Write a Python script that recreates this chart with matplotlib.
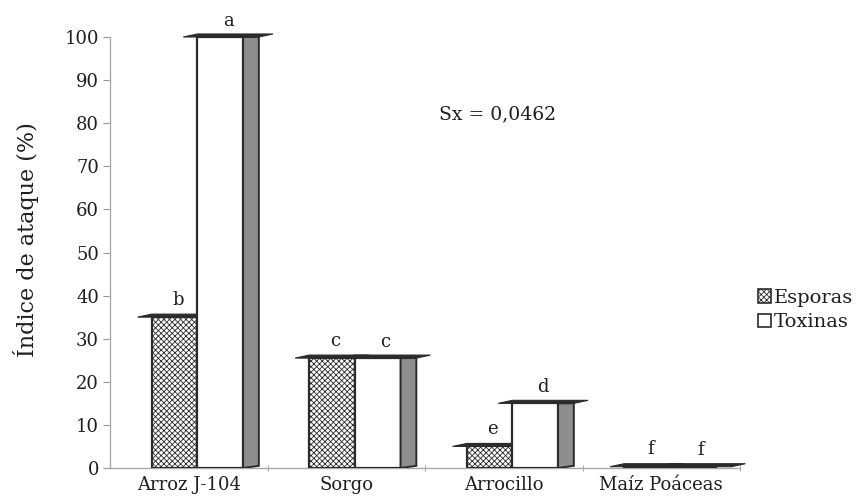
import matplotlib
matplotlib.use("Agg")
import matplotlib.pyplot as plt
from matplotlib.patches import Polygon, Patch

plt.rcParams['font.family'] = ['DejaVu Serif']
plt.rcParams['hatch.color'] = '#b0b0b0'
plt.rcParams['hatch.linewidth'] = 0.6

# ---- datos ----
categorias = ['Arroz J-104', 'Sorgo', 'Arrocillo', 'Maíz Poáceas']
esporas = [35, 25.5, 5, 0.3]
toxinas = [100, 25.5, 15, 0.3]
letras_esporas = ['b', 'c', 'e', 'f']
letras_toxinas = ['a', 'c', 'd', 'f']
yticks = list(range(0, 101, 10))

# ---- geometría ----
ancho = 0.29
desp = 0.055          # el par de barras está algo corrido a la derecha
prof = 0.10           # ancho de la cara lateral
dy = 0.7              # grosor de la cara superior
txt = '#1e1e1e'

fig = plt.figure(figsize=(8.56, 5.04), dpi=100)
ax = fig.add_axes([110/856, 36/504, 630/856, 431/504])

def cara_superior(x0, x1, top, z):
    ext = 0.09
    return Polygon([(x0 - ext, top), (x1, top), (x1 + ext, top + dy), (x0, top + dy)],
                   closed=True, facecolor='#2b2b2b', edgecolor='#2b2b2b', lw=0.8,
                   zorder=z, clip_on=False)

for i in range(len(categorias)):
    xe = i + desp - ancho
    xt = i + desp
    # esporas
    ax.bar(xe, esporas[i], ancho, align='edge', facecolor='white', hatch='xxxxxx',
           edgecolor='#2b2b2b', linewidth=1.6, zorder=3)
    ax.add_patch(cara_superior(xe, xe + ancho, esporas[i], 2.5))
    # toxinas
    ax.bar(xt, toxinas[i], ancho, align='edge', facecolor='white',
           edgecolor='#2b2b2b', linewidth=1.6, zorder=3)
    # cara lateral gris
    x1 = xt + ancho
    if toxinas[i] > 2:
        ax.add_patch(Polygon([(x1, 0), (x1 + prof, 0.5), (x1 + prof, toxinas[i]), (x1, toxinas[i])],
                             closed=True, facecolor='#8e8e8e', edgecolor='#2b2b2b', lw=1.4, zorder=3))
    ax.add_patch(cara_superior(xt, x1 + prof, toxinas[i], 4))
    # letras
    ax.text(xe + ancho / 2 + 0.02, esporas[i] + 4, letras_esporas[i], ha='center', va='center',
            fontsize=13, color=txt)
    ax.text(xt + (ancho + prof) / 2, toxinas[i] + 3.8, letras_toxinas[i], ha='center', va='center',
            fontsize=13, color=txt)

ax.text(1.96, 82, 'Sx = 0,0462', fontsize=13.5, color=txt, ha='center', va='center')

ax.set_xlim(-0.5, 3.5)
ax.set_ylim(0, 100)
ax.set_yticks(yticks)
ax.set_yticklabels([str(v) for v in yticks], fontsize=13, color=txt)
ax.set_xticks(range(len(categorias)))
ax.set_xticklabels(categorias, fontsize=13, color=txt)
ax.set_xticks([0.5, 1.5, 2.5, 3.5], minor=True)
ax.tick_params(axis='x', which='major', length=0, pad=6)
ax.tick_params(axis='x', which='minor', length=5, color='#999999', direction='inout')
ax.tick_params(axis='y', length=5, color='#999999', pad=3)
for s in ['top', 'right']:
    ax.spines[s].set_visible(False)
for s in ['left', 'bottom']:
    ax.spines[s].set_color('#aaaaaa')
    ax.spines[s].set_linewidth(1.0)
ax.set_ylabel('Índice de ataque (%)', fontsize=16, color=txt)
ax.yaxis.set_label_coords(-0.112, 0.53)

handles = [Patch(facecolor='white', edgecolor='#2b2b2b', hatch='xxxxxx', lw=1.2, label='Esporas'),
           Patch(facecolor='white', edgecolor='#2b2b2b', lw=1.2, label='Toxinas')]
fig.legend(handles=handles, loc='center left', bbox_to_anchor=(748/856, 1 - 310/504),
           frameon=False, fontsize=14, handlelength=0.7, handleheight=0.7,
           handletextpad=0.15, labelspacing=0.35, borderpad=0, labelcolor=txt)

fig.savefig('out.png', dpi=100)
